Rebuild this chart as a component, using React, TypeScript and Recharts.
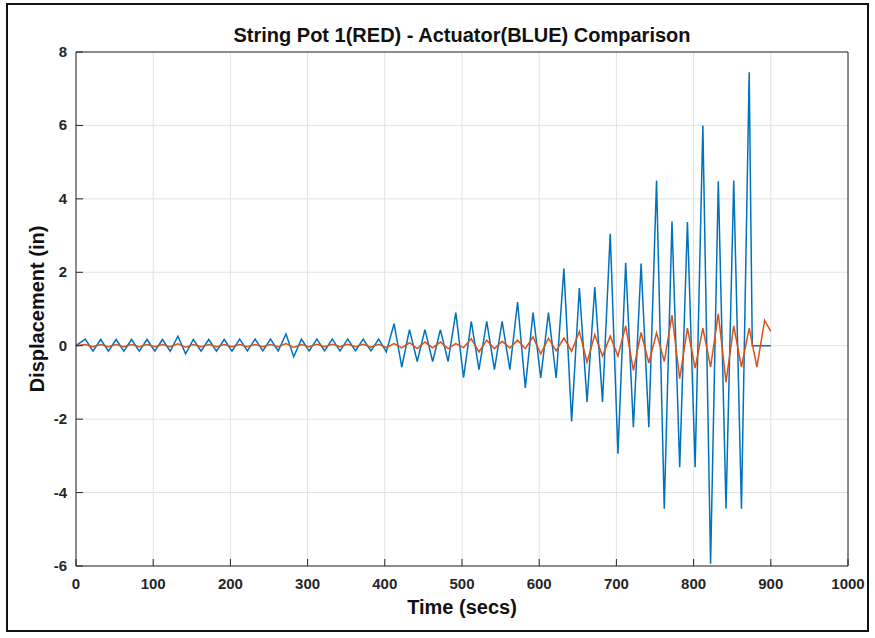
import { CartesianGrid, Line, LineChart, XAxis, YAxis } from "recharts";

const W = 875;
const H = 638;
const PLOT = { left: 76, top: 52, right: 848, bottom: 566 };
const AXIS = "#262626";
const FONT = '"Liberation Sans", Arial, Helvetica, sans-serif';

const xTicks = [0, 100, 200, 300, 400, 500, 600, 700, 800, 900, 1000];
const yTicks = [-6, -4, -2, 0, 2, 4, 6, 8];

// actuator (blue) - sampled at each peak / trough
const actuatorTime = [
  0, 12, 22, 32, 42, 52, 62, 72, 82, 92, 102, 112, 122, 132, 142, 152, 162, 172, 182, 192, 202,
  212, 222, 232, 242, 252, 262, 272, 282, 292, 302, 312, 322, 332, 342, 352, 362, 372, 382, 392, 402,
  412, 422, 432, 442, 452, 462, 472, 482, 492, 502, 512, 522, 532, 542, 552, 562, 572, 582, 592, 602,
  612, 622, 632, 642, 652, 662, 672, 682, 692, 702, 712, 722, 732, 742, 752, 762, 772, 782, 792, 802,
  812, 822, 832, 842, 852, 862, 872, 876, 900,
];
const actuatorDisp = [
  0,
  0.18, -0.15, 0.17, -0.15, 0.17, -0.15, 0.17, -0.15, 0.17, -0.15, 0.17, -0.15, 0.26, -0.22, 0.17, -0.15, 0.17, -0.15, 0.17, -0.15,
  0.18, -0.14, 0.18, -0.14, 0.18, -0.14, 0.32, -0.3, 0.18, -0.14, 0.18, -0.14, 0.18, -0.14, 0.18, -0.14, 0.18, -0.14, 0.18, -0.17,
  0.6, -0.58, 0.44, -0.43, 0.44, -0.43, 0.44, -0.43, 0.9, -0.87, 0.66, -0.65, 0.66, -0.65, 0.66, -0.65, 1.19, -1.15, 0.9, -0.88,
  0.9, -0.88, 2.1, -2.06, 1.57, -1.53, 1.6, -1.53, 3.05, -2.94, 2.26, -2.22, 2.24, -2.22, 4.5, -4.44, 3.38, -3.31, 3.37, -3.31,
  6.0, -5.94, 4.48, -4.44, 4.5, -4.44, 7.45, 0, 0,
];

// string pot 1 (red)
const stringPotTime = [
  0, 12, 22, 32, 42, 52, 62, 72, 82, 92, 102, 112, 122, 132, 142, 152, 162, 172, 182, 192, 202,
  212, 222, 232, 242, 252, 262, 272, 282, 292, 302, 312, 322, 332, 342, 352, 362, 372, 382, 392, 402,
  412, 422, 432, 442, 452, 462, 472, 482, 492, 502, 512, 522, 532, 542, 552, 562, 572, 582, 592, 602,
  612, 622, 632, 642, 652, 662, 672, 682, 692, 702, 712, 722, 732, 742, 752, 762, 772, 782, 792, 802,
  812, 822, 832, 842, 852, 862, 872, 882, 892, 900,
];
const stringPotDisp = [
  0,
  0.03, -0.03, 0.03, -0.03, 0.03, -0.03, 0.03, -0.03, 0.03, -0.03, 0.03, -0.03, 0.05, -0.04, 0.03, -0.03, 0.03, -0.03, 0.03, -0.03,
  0.03, -0.03, 0.03, -0.03, 0.03, -0.03, 0.06, -0.05, 0.03, -0.03, 0.04, -0.03, 0.04, -0.03, 0.04, -0.03, 0.04, -0.04, 0.04, -0.05,
  0.06, -0.06, 0.08, -0.08, 0.1, -0.06, 0.1, -0.08, 0.06, -0.05, 0.19, -0.17, 0.15, -0.08, 0.12, -0.06, 0.15, -0.08, 0.24, -0.22,
  0.2, -0.14, 0.21, -0.15, 0.39, -0.45, 0.3, -0.28, 0.26, -0.28, 0.54, -0.67, 0.36, -0.47, 0.35, -0.43, 0.83, -0.9, 0.48, -0.61,
  0.48, -0.58, 0.87, -0.99, 0.54, -0.58, 0.48, -0.58, 0.69, 0.39,
];

const actuatorData = actuatorTime.map((t, i) => ({ t, v: actuatorDisp[i] }));
const stringPotData = stringPotTime.map((t, i) => ({ t, v: stringPotDisp[i] }));

const tickText = {
  fontSize: 15,
  fontWeight: 700,
  fill: AXIS,
  fontFamily: FONT,
};

function BottomTick({ x, payload }: any) {
  return (
    <g>
      <line x1={x} x2={x} y1={PLOT.bottom} y2={PLOT.bottom - 7} stroke={AXIS} />
      <text x={x} y={PLOT.bottom + 23} textAnchor="middle" {...tickText}>
        {payload.value}
      </text>
    </g>
  );
}

function LeftTick({ y, payload }: any) {
  return (
    <g>
      <line x1={PLOT.left} x2={PLOT.left + 7} y1={y} y2={y} stroke={AXIS} />
      <text x={PLOT.left - 9} y={y + 5} textAnchor="end" {...tickText}>
        {payload.value}
      </text>
    </g>
  );
}

function TopTick({ x }: any) {
  return <line x1={x} x2={x} y1={PLOT.top} y2={PLOT.top + 7} stroke={AXIS} />;
}

function RightTick({ y }: any) {
  return <line x1={PLOT.right} x2={PLOT.right - 7} y1={y} y2={y} stroke={AXIS} />;
}

export default function App() {
  const label = { position: "absolute" as const, fontFamily: FONT, fontWeight: 700, color: "#111", whiteSpace: "nowrap" as const, lineHeight: 1 };
  return (
    <div style={{ position: "absolute", left: 0, top: 0, width: W, height: H, background: "#fff" }}>
      <div style={{ ...label, left: PLOT.left, width: PLOT.right - PLOT.left, top: 25, textAlign: "center", fontSize: 20 }}>
        String Pot 1(RED) - Actuator(BLUE) Comparison
      </div>
      <div style={{ ...label, left: (PLOT.left + PLOT.right) / 2, top: 607, transform: "translate(-50%, -50%)", fontSize: 20 }}>
        Time (secs)
      </div>
      <div style={{ ...label, left: 37, top: (PLOT.top + PLOT.bottom) / 2, transform: "translate(-50%, -50%) rotate(-90deg)", fontSize: 20 }}>
        Displacement (in)
      </div>
      <div style={{ position: "absolute", left: 0, top: 0 }}>
        <LineChart
          width={W}
          height={H}
          margin={{ top: PLOT.top - 10, right: W - PLOT.right - 10, bottom: H - PLOT.bottom - 30, left: PLOT.left - 60 }}
        >
          <CartesianGrid stroke="#e2e2e2" xAxisId="b" yAxisId="l" />
          <XAxis
            xAxisId="b"
            dataKey="t"
            type="number"
            domain={[0, 1000]}
            ticks={xTicks}
            interval={0}
            height={30}
            axisLine={{ stroke: AXIS }}
            tickLine={false}
            tick={<BottomTick />}
            allowDuplicatedCategory={false}
          />
          <XAxis
            xAxisId="t"
            orientation="top"
            dataKey="t"
            type="number"
            domain={[0, 1000]}
            ticks={xTicks}
            interval={0}
            height={10}
            axisLine={{ stroke: AXIS }}
            tickLine={false}
            tick={<TopTick />}
          />
          <YAxis
            yAxisId="l"
            type="number"
            domain={[-6, 8]}
            ticks={yTicks}
            interval={0}
            width={60}
            axisLine={{ stroke: AXIS }}
            tickLine={false}
            tick={<LeftTick />}
          />
          <YAxis
            yAxisId="r"
            orientation="right"
            type="number"
            domain={[-6, 8]}
            ticks={yTicks}
            interval={0}
            width={10}
            axisLine={{ stroke: AXIS }}
            tickLine={false}
            tick={<RightTick />}
          />
          <Line
            xAxisId="b"
            yAxisId="l"
            data={actuatorData}
            dataKey="v"
            type="linear"
            stroke="#0072BD"
            strokeWidth={1.5}
            dot={false}
            isAnimationActive={false}
          />
          <Line
            xAxisId="b"
            yAxisId="l"
            data={stringPotData}
            dataKey="v"
            type="linear"
            stroke="#D95319"
            strokeWidth={1.5}
            dot={false}
            isAnimationActive={false}
          />
        </LineChart>
      </div>
      <svg width={W} height={H} style={{ position: "absolute", left: 0, top: 0, pointerEvents: "none" }}>
        <rect x={7} y={4} width={861} height={627} fill="none" stroke="#111" strokeWidth={2} />
      </svg>
    </div>
  );
}
